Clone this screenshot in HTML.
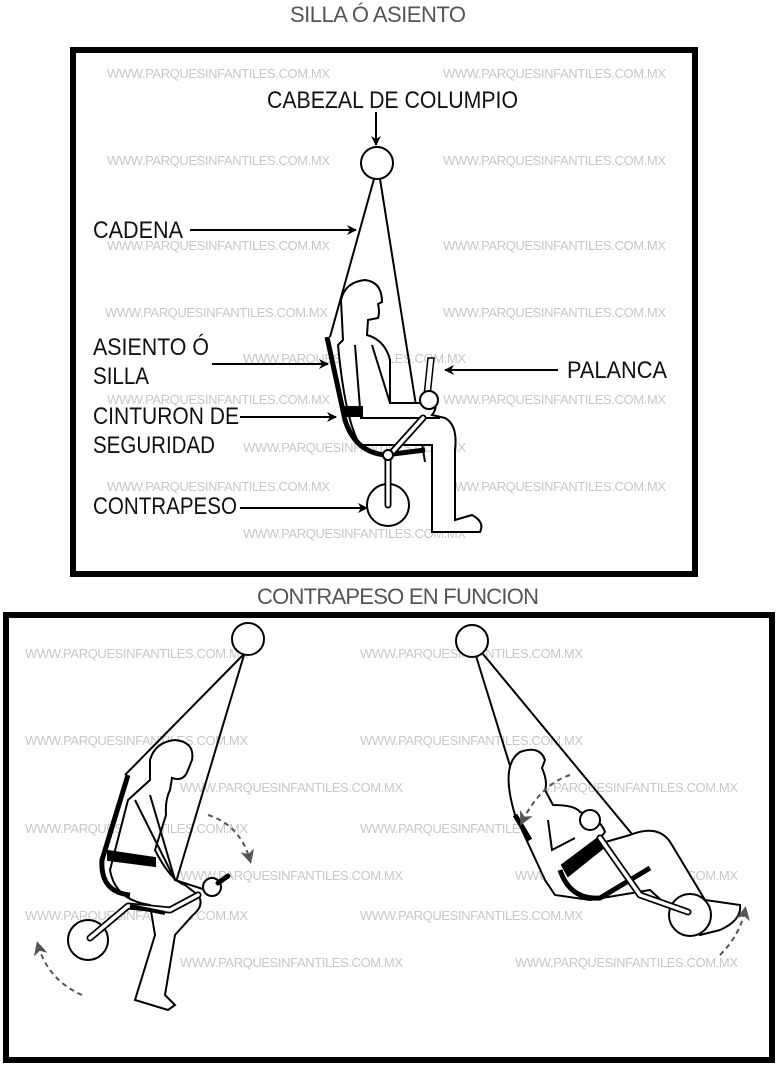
<!DOCTYPE html>
<html><head><meta charset="utf-8"><style>
html,body{margin:0;padding:0;background:#fff}
svg{display:block}
.wm{font-family:"Liberation Sans",sans-serif;font-size:13px;fill:#c8c8c8}
.lb{font-family:"Liberation Sans",sans-serif;font-size:24px;fill:#111}
.tt{font-family:"Liberation Sans",sans-serif;font-size:22px;fill:#555}
</style></head><body>
<svg width="778" height="1067" viewBox="0 0 778 1067" xmlns="http://www.w3.org/2000/svg">
<defs>
<marker id="ar" markerWidth="10" markerHeight="10" refX="9" refY="5" orient="auto" markerUnits="userSpaceOnUse"><path d="M0,0 L10,5 L0,10 L3,5 Z" fill="#000"/></marker>
<marker id="ga" markerWidth="14" markerHeight="14" refX="10" refY="7" orient="auto" markerUnits="userSpaceOnUse"><path d="M0,0 L14,7 L0,14 L4,7 Z" fill="#555"/></marker>
</defs>
<text class="tt" x="378" y="22" text-anchor="middle" textLength="176">SILLA Ó ASIENTO</text>
<rect x="73" y="50" width="622" height="524" fill="none" stroke="#000" stroke-width="6"/>
<text class="tt" x="398" y="604" text-anchor="middle" textLength="282">CONTRAPESO EN FUNCION</text>
<rect x="6" y="615" width="766" height="445" fill="none" stroke="#000" stroke-width="6"/>

<g class="wm">
<text x="107" y="78" textLength="223">WWW.PARQUESINFANTILES.COM.MX</text>
<text x="443" y="78" textLength="223">WWW.PARQUESINFANTILES.COM.MX</text>
<text x="107" y="165" textLength="223">WWW.PARQUESINFANTILES.COM.MX</text>
<text x="443" y="165" textLength="223">WWW.PARQUESINFANTILES.COM.MX</text>
<text x="107" y="250" textLength="223">WWW.PARQUESINFANTILES.COM.MX</text>
<text x="443" y="250" textLength="223">WWW.PARQUESINFANTILES.COM.MX</text>
<text x="105" y="317" textLength="223">WWW.PARQUESINFANTILES.COM.MX</text>
<text x="443" y="317" textLength="223">WWW.PARQUESINFANTILES.COM.MX</text>
<text x="243" y="363" textLength="223">WWW.PARQUESINFANTILES.COM.MX</text>
<text x="107" y="404" textLength="223">WWW.PARQUESINFANTILES.COM.MX</text>
<text x="443" y="404" textLength="223">WWW.PARQUESINFANTILES.COM.MX</text>
<text x="243" y="452" textLength="223">WWW.PARQUESINFANTILES.COM.MX</text>
<text x="107" y="491" textLength="223">WWW.PARQUESINFANTILES.COM.MX</text>
<text x="443" y="491" textLength="223">WWW.PARQUESINFANTILES.COM.MX</text>
<text x="243" y="538" textLength="223">WWW.PARQUESINFANTILES.COM.MX</text>
<text x="25" y="658" textLength="223">WWW.PARQUESINFANTILES.COM.MX</text>
<text x="360" y="658" textLength="223">WWW.PARQUESINFANTILES.COM.MX</text>
<text x="25" y="745" textLength="223">WWW.PARQUESINFANTILES.COM.MX</text>
<text x="360" y="745" textLength="223">WWW.PARQUESINFANTILES.COM.MX</text>
<text x="180" y="792" textLength="223">WWW.PARQUESINFANTILES.COM.MX</text>
<text x="515" y="792" textLength="223">WWW.PARQUESINFANTILES.COM.MX</text>
<text x="25" y="833" textLength="223">WWW.PARQUESINFANTILES.COM.MX</text>
<text x="360" y="833" textLength="223">WWW.PARQUESINFANTILES.COM.MX</text>
<text x="180" y="880" textLength="223">WWW.PARQUESINFANTILES.COM.MX</text>
<text x="515" y="880" textLength="223">WWW.PARQUESINFANTILES.COM.MX</text>
<text x="25" y="920" textLength="223">WWW.PARQUESINFANTILES.COM.MX</text>
<text x="360" y="920" textLength="223">WWW.PARQUESINFANTILES.COM.MX</text>
<text x="180" y="967" textLength="223">WWW.PARQUESINFANTILES.COM.MX</text>
<text x="515" y="967" textLength="223">WWW.PARQUESINFANTILES.COM.MX</text>
</g>

<text class="lb" x="267" y="108" textLength="251" lengthAdjust="spacingAndGlyphs">CABEZAL DE COLUMPIO</text>
<text class="lb" x="93" y="238" textLength="90" lengthAdjust="spacingAndGlyphs">CADENA</text>
<text class="lb" x="93" y="355" textLength="116" lengthAdjust="spacingAndGlyphs">ASIENTO Ó</text>
<text class="lb" x="93" y="384" textLength="56" lengthAdjust="spacingAndGlyphs">SILLA</text>
<text class="lb" x="93" y="424" textLength="146" lengthAdjust="spacingAndGlyphs">CINTURON DE</text>
<text class="lb" x="93" y="453" textLength="122" lengthAdjust="spacingAndGlyphs">SEGURIDAD</text>
<text class="lb" x="93" y="514" textLength="144" lengthAdjust="spacingAndGlyphs">CONTRAPESO</text>
<text class="lb" x="567" y="378" textLength="100" lengthAdjust="spacingAndGlyphs">PALANCA</text>

<g stroke="#000" stroke-width="2" fill="none">
<line x1="376" y1="112" x2="376" y2="145" marker-end="url(#ar)"/>
<line x1="190" y1="230" x2="356" y2="230" marker-end="url(#ar)"/>
<line x1="212" y1="364" x2="328" y2="364" marker-end="url(#ar)"/>
<line x1="240" y1="417" x2="336" y2="417" marker-end="url(#ar)"/>
<line x1="240" y1="508" x2="367" y2="508" marker-end="url(#ar)"/>
<line x1="558" y1="370" x2="445" y2="370" marker-end="url(#ar)"/>
</g>

<g stroke="#000" stroke-width="2" fill="#fff">
<circle cx="377" cy="163" r="16"/>
<line x1="374" y1="179" x2="330" y2="337" fill="none"/>
<line x1="380" y1="179" x2="425" y2="462" fill="none"/>
<path d="M343,340 L341,300 Q345,282 365,280 Q382,282 382,302 L378,304 Q380,312 378,318 L368,320 L367,335 Q385,340 390,360 L390,403 L425,403 L430,395 Q440,405 432,415 L445,418 Q458,425 455,450 L455,520 L472,515 Q485,522 480,532 L432,532 L432,445 L360,445 Q345,420 338,345 Z"/>
<path d="M355,345 L360,408" fill="none"/>
<path d="M372,345 L390,403" fill="none"/>
<path d="M360,418 L440,418" fill="none"/>
<path d="M327,337 L345,420 Q355,452 385,455 L425,450" stroke-width="5" fill="none"/>
<rect x="344" y="407" width="18" height="9" fill="#000"/>
<path d="M428,358 L434,358 L430,396 L424,396 Z" stroke-width="1.5"/>
<circle cx="429" cy="400" r="9"/>
<path d="M387,458 L423,418" stroke-width="7" stroke-linecap="round"/>
<path d="M387,458 L423,418" stroke="#fff" stroke-width="3.5" stroke-linecap="round"/>
<circle cx="388" cy="505" r="21"/>
<path d="M388,455 L388,505" stroke-width="7" stroke-linecap="round"/>
<path d="M388,455 L388,505" stroke="#fff" stroke-width="3.5" stroke-linecap="round"/>
<circle cx="388" cy="455" r="5"/>
</g>

<g stroke="#000" stroke-width="2" fill="#fff">
<circle cx="248" cy="639" r="16"/>
<line x1="243" y1="655" x2="125" y2="775" fill="none"/>
<line x1="244" y1="655" x2="167" y2="912" fill="none"/>
<path d="M150,780 L150,760 Q155,742 175,740 Q195,742 192,760 L188,770 Q184,782 172,778 L170,790 Q165,800 166,815 L155,850 Q170,880 185,885 L198,895 Q205,905 193,915 L175,935 L165,995 L175,1005 L168,1010 L135,1000 L155,935 L150,905 Q115,900 110,870 L128,800 Z"/>
<path d="M135,800 L175,880 L212,892" fill="none"/>
<path d="M150,795 L175,880" fill="none"/>
<path d="M128,775 L102,860 Q100,892 130,895" stroke-width="5" fill="none"/>
<path d="M108,851 L155,858 L155,866 L108,860 Z" fill="#000"/>
<circle cx="212" cy="887" r="9"/>
<path d="M218,883 L228,876" stroke-width="5" stroke-linecap="round"/>
<circle cx="88" cy="940" r="20"/>
<path d="M90,938 L128,906 L170,910 L198,895" stroke-width="7" stroke-linecap="round" stroke-linejoin="round" fill="none"/>
<path d="M90,938 L128,906 L170,910 L198,895" stroke="#fff" stroke-width="3.5" stroke-linecap="round" stroke-linejoin="round" fill="none"/>
<path d="M130,906 L165,913" stroke-width="4" fill="none"/>
</g>
<g stroke="#555" stroke-width="2" fill="none" stroke-dasharray="5,4">
<path d="M208,815 Q240,825 250,860" marker-end="url(#ga)"/>
<path d="M82,995 Q48,980 38,945" marker-end="url(#ga)"/>
</g>

<g stroke="#000" stroke-width="2" fill="#fff">
<circle cx="472" cy="641" r="16"/>
<line x1="476" y1="656" x2="546" y2="882" fill="none"/>
<line x1="483" y1="654" x2="660" y2="868" fill="none"/>
<path d="M515,815 Q500,765 520,752 Q540,745 545,760 L542,768 Q548,782 545,790 L553,805 Q575,805 580,812 Q600,818 605,832 L595,845 L630,835 Q660,823 672,845 L705,900 L740,905 Q742,920 720,930 L700,935 L650,890 L590,900 L555,895 L545,880 Z"/>
<path d="M548,820 L552,850 L575,838" fill="none"/>
<path d="M515,815 L530,840" stroke-width="5" fill="none"/>
<path d="M560,870 Q570,900 600,898 L650,868" stroke-width="5" fill="none"/>
<path d="M562,865 L598,838 L603,848 L568,876 Z" fill="#000"/>
<circle cx="590" cy="820" r="10"/>
<circle cx="690" cy="915" r="21"/>
<path d="M600,838 L640,895 L688,912" stroke-width="7" stroke-linecap="round" stroke-linejoin="round" fill="none"/>
<path d="M600,838 L640,895 L688,912" stroke="#fff" stroke-width="3.5" stroke-linecap="round" stroke-linejoin="round" fill="none"/>
</g>
<g stroke="#555" stroke-width="2" fill="none" stroke-dasharray="5,4">
<path d="M570,775 Q540,785 522,822" marker-end="url(#ga)"/>
<path d="M720,955 Q740,935 745,910" marker-end="url(#ga)"/>
</g>
</svg>
</body></html>
